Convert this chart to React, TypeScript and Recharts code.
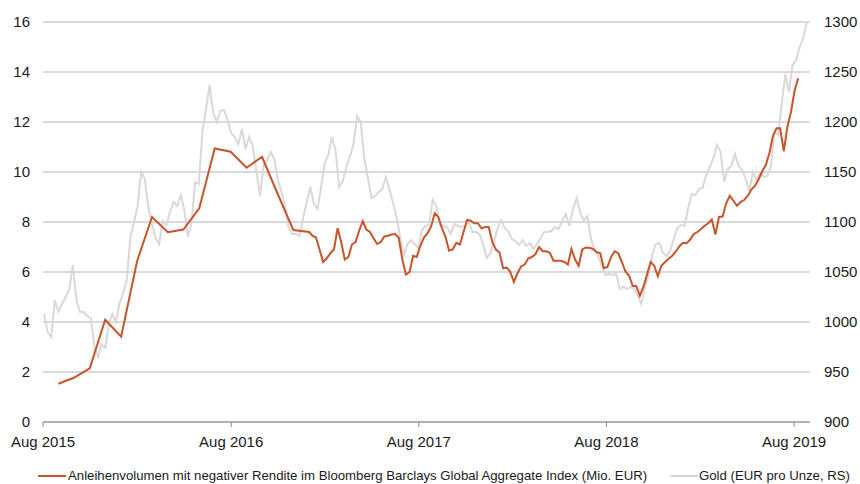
import React from 'react';
import { LineChart, Line, XAxis, YAxis, CartesianGrid } from 'recharts';

const BOND_COLOR = '#c9532a';
const GOLD_COLOR = '#dbd8d6';
const FONT = '"Liberation Sans", Arial, Helvetica, sans-serif';

// Anleihenvolumen: Monatswerte bis Ende 2016
const BOND_MONTH_DATES = [
  '2015-08-31', '2015-09-30', '2015-10-31', '2015-11-30', '2015-12-31',
  '2016-01-31', '2016-02-29', '2016-03-31', '2016-04-30', '2016-05-31',
  '2016-06-30', '2016-07-31', '2016-08-31', '2016-09-30', '2016-10-31',
  '2016-11-30', '2016-12-31',
];
const BOND_MONTH_VALUES = [
  1.53, 1.77, 2.15, 4.09, 3.41, 6.43, 8.2, 7.59, 7.7, 8.55, 10.94, 10.81, 10.17,
  10.61, 9.1, 7.68, 7.6,
];

// Anleihenvolumen: Wochenwerte (freitags) ab 6. Jan 2017
const BOND_WEEK_START = '2017-01-06';
const BOND_WEEK_VALUES = [
  7.45, 7.38, 6.9, 6.4, 6.55, 6.75, 6.9, 7.75, 7.2, 6.5,
  6.6, 7.1, 7.2, 7.65, 8.03, 7.7, 7.6, 7.35, 7.12, 7.2,
  7.42, 7.45, 7.5, 7.52, 7.37, 6.5, 5.9, 6.0, 6.65, 6.6,
  7.05, 7.38, 7.55, 7.82, 8.35, 8.2, 7.75, 7.4, 6.85, 6.9,
  7.17, 7.1, 7.6, 8.08, 8.05, 7.95, 7.95, 7.75, 7.8, 7.8,
  7.2, 6.9, 6.78, 6.15, 6.18, 6.0, 5.6, 5.95, 6.22, 6.3,
  6.55, 6.6, 6.72, 7.0, 6.83, 6.83, 6.77, 6.45, 6.45, 6.45,
  6.4, 6.3, 6.92, 6.5, 6.25, 6.9, 6.98, 6.97, 6.92, 6.8,
  6.75, 6.15, 6.2, 6.6, 6.83, 6.75, 6.4, 6.02, 5.85, 5.45,
  5.43, 5.05, 5.4, 5.9, 6.4, 6.25, 5.83, 6.25, 6.4, 6.53,
  6.65, 6.82, 7.03, 7.17, 7.15, 7.3, 7.52, 7.6, 7.72, 7.85,
  7.95, 8.1, 7.5, 8.2, 8.22, 8.75, 9.05, 8.85, 8.65, 8.8,
  8.88, 9.05, 9.3, 9.45, 9.7, 10.03, 10.28, 10.75, 11.45, 11.75,
  11.75, 10.83, 11.8, 12.4, 13.25, 13.75,
];

// Gold in EUR pro Unze: Wochenwerte (montags) ab 3. Aug 2015
const GOLD_WEEK_START = '2015-08-03';
const GOLD_WEEK_VALUES = [
  1008, 990, 985, 1022, 1010, 1018, 1025, 1032, 1057, 1022,
  1010, 1010, 1006, 1004, 975, 965, 978, 974, 998, 1008,
  1000, 1019, 1029, 1042, 1085, 1100, 1116, 1150, 1143, 1114,
  1098, 1084, 1078, 1101, 1097, 1110, 1120, 1116, 1127, 1112,
  1085, 1100, 1140, 1138, 1190, 1213, 1237, 1209, 1200, 1211,
  1212, 1202, 1189, 1185, 1178, 1193, 1173, 1185, 1176, 1151,
  1126, 1156, 1162, 1170, 1163, 1142, 1130, 1115, 1094, 1088,
  1088, 1086, 1104, 1120, 1135, 1118, 1113, 1135, 1159, 1167,
  1185, 1172, 1135, 1141, 1155, 1165, 1178, 1206, 1200, 1164,
  1144, 1124, 1126, 1130, 1133, 1145, 1132, 1119, 1104, 1084,
  1067, 1078, 1082, 1078, 1074, 1092, 1096, 1097, 1122, 1116,
  1097, 1096, 1095, 1088, 1098, 1096, 1095, 1096, 1101, 1090,
  1090, 1088, 1078, 1064, 1068, 1080, 1093, 1102, 1094, 1091,
  1083, 1081, 1077, 1082, 1076, 1079, 1073, 1078, 1084, 1090,
  1090, 1091, 1095, 1093, 1101, 1108, 1096, 1113, 1124, 1110,
  1101, 1106, 1083, 1072, 1066, 1056, 1047, 1048, 1047, 1048,
  1033, 1035, 1033, 1035, 1033, 1026, 1018, 1036, 1047, 1067,
  1078, 1079, 1069, 1066, 1071, 1083, 1094, 1097, 1096, 1114,
  1128, 1127, 1133, 1134, 1147, 1155, 1164, 1177, 1170, 1140,
  1153, 1156, 1168, 1156, 1152, 1143, 1131, 1150, 1142, 1149,
  1145, 1146, 1156, 1190, 1187, 1218, 1248, 1230, 1257, 1262,
  1275, 1284, 1300,
];

const X_TICK_DATES = ['2015-08-01', '2016-08-01', '2017-08-01', '2018-08-01', '2019-08-01'];
const X_DOMAIN = ['2015-08-01', '2019-09-01'];
const LEFT_TICKS = [0, 2, 4, 6, 8, 10, 12, 14, 16];
const RIGHT_TICKS = [900, 950, 1000, 1050, 1100, 1150, 1200, 1250, 1300];
const MONTHS = ['Jan', 'Feb', 'Mär', 'Apr', 'Mai', 'Jun', 'Jul', 'Aug', 'Sep', 'Okt', 'Nov', 'Dez'];

const DAY = 24 * 3600 * 1000;
const ts = (d: string) => Date.parse(d + 'T00:00:00Z');

type Row = { t: number; bonds?: number; gold?: number };

function buildRows(): Row[] {
  const rows = new Map<number, Row>();
  const put = (t: number, key: 'bonds' | 'gold', v: number) => {
    const r = rows.get(t) || { t };
    r[key] = v;
    rows.set(t, r);
  };
  BOND_MONTH_DATES.forEach((d, i) => put(ts(d), 'bonds', BOND_MONTH_VALUES[i]));
  BOND_WEEK_VALUES.forEach((v, i) => put(ts(BOND_WEEK_START) + i * 7 * DAY, 'bonds', v));
  GOLD_WEEK_VALUES.forEach((v, i) => put(ts(GOLD_WEEK_START) + i * 7 * DAY, 'gold', v));
  return Array.from(rows.values()).sort((a, b) => a.t - b.t);
}

const data = buildRows();

const fmtDate = (t: number) => {
  const d = new Date(t);
  return `${MONTHS[d.getUTCMonth()]} ${d.getUTCFullYear()}`;
};

const tickStyle = { fill: '#1a1a1a', fontSize: 15, fontFamily: FONT };

export default function App() {
  return (
    <div style={{ position: 'absolute', left: 0, top: 0, width: 860, height: 484, background: '#fff' }}>
      <LineChart
        width={860}
        height={484}
        data={data}
        margin={{ top: 22, right: 0, left: 0, bottom: 31 }}
      >
        <CartesianGrid yAxisId="left" vertical={false} stroke="#b4b4b4" strokeWidth={1} />
        <XAxis
          dataKey="t"
          type="number"
          scale="time"
          domain={[ts(X_DOMAIN[0]), ts(X_DOMAIN[1])]}
          ticks={X_TICK_DATES.map(ts)}
          tickFormatter={fmtDate}
          tick={tickStyle}
          tickSize={5}
          tickMargin={9}
          stroke="#8a8a8a"
          height={31}
          allowDataOverflow
        />
        <YAxis
          yAxisId="left"
          domain={[0, 16]}
          ticks={LEFT_TICKS}
          tick={tickStyle}
          axisLine={false}
          tickLine={false}
          tickSize={0}
          tickMargin={13}
          width={43}
        />
        <YAxis
          yAxisId="right"
          orientation="right"
          domain={[900, 1300]}
          ticks={RIGHT_TICKS}
          tick={tickStyle}
          axisLine={false}
          tickLine={false}
          tickSize={0}
          tickMargin={14}
          width={50}
        />
        <Line
          yAxisId="right"
          dataKey="gold"
          type="linear"
          stroke={GOLD_COLOR}
          strokeWidth={2}
          dot={false}
          connectNulls
          isAnimationActive={false}
        />
        <Line
          yAxisId="left"
          dataKey="bonds"
          type="linear"
          stroke={BOND_COLOR}
          strokeWidth={2}
          dot={false}
          connectNulls
          isAnimationActive={false}
        />
      </LineChart>
      <div style={{ position: 'absolute', left: 38, top: 475, width: 28, height: 2, background: BOND_COLOR }} />
      <div style={{ position: 'absolute', left: 68, top: 467, fontFamily: FONT, fontSize: 13.2, lineHeight: '17px', color: '#1a1a1a', whiteSpace: 'nowrap' }}>
        Anleihenvolumen mit negativer Rendite im Bloomberg Barclays Global Aggregate Index (Mio. EUR)
      </div>
      <div style={{ position: 'absolute', left: 670, top: 475, width: 28, height: 2, background: GOLD_COLOR }} />
      <div style={{ position: 'absolute', left: 699, top: 467, fontFamily: FONT, fontSize: 13.2, lineHeight: '17px', color: '#1a1a1a', whiteSpace: 'nowrap' }}>
        Gold (EUR pro Unze, RS)
      </div>
    </div>
  );
}
